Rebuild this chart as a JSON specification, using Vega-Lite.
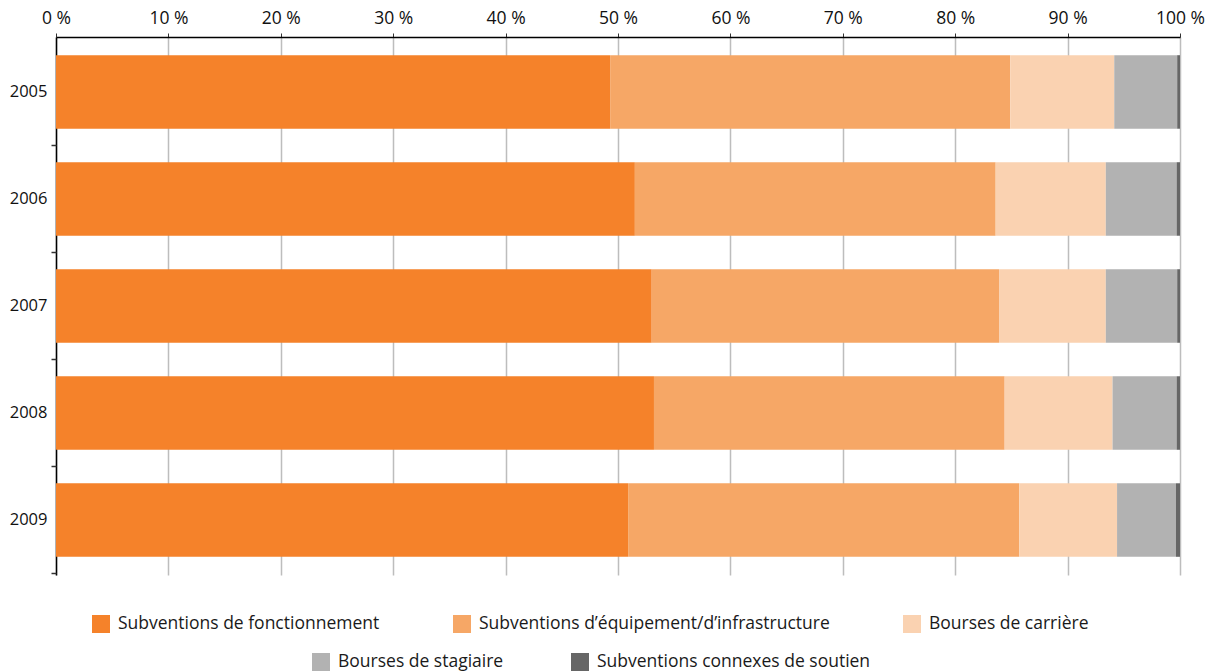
{
  "$schema": "https://vega.github.io/schema/vega-lite/v6.json",
  "autosize": {"type": "none"},
  "padding": {"left": 56, "top": 37, "right": 46, "bottom": 97},
  "width": 1124,
  "height": 538,
  "background": "white",
  "config": {
    "view": {"stroke": null},
    "font": "Open Sans",
    "axis": {"labelFont": "Open Sans", "labelColor": "#111111"},
    "legend": {"labelFont": "Open Sans", "labelColor": "#1a1a1a"}
  },
  "data": {
    "values": [
      {"year": "2005", "cat": "Subventions de fonctionnement", "ord": 1, "value": 49.3},
      {"year": "2005", "cat": "Subventions d’équipement/d’infrastructure", "ord": 2, "value": 35.6},
      {"year": "2005", "cat": "Bourses de carrière", "ord": 3, "value": 9.25},
      {"year": "2005", "cat": "Bourses de stagiaire", "ord": 4, "value": 5.6},
      {"year": "2005", "cat": "Subventions connexes de soutien", "ord": 5, "value": 0.25},
      {"year": "2006", "cat": "Subventions de fonctionnement", "ord": 1, "value": 51.5},
      {"year": "2006", "cat": "Subventions d’équipement/d’infrastructure", "ord": 2, "value": 32.1},
      {"year": "2006", "cat": "Bourses de carrière", "ord": 3, "value": 9.8},
      {"year": "2006", "cat": "Bourses de stagiaire", "ord": 4, "value": 6.3},
      {"year": "2006", "cat": "Subventions connexes de soutien", "ord": 5, "value": 0.3},
      {"year": "2007", "cat": "Subventions de fonctionnement", "ord": 1, "value": 53.0},
      {"year": "2007", "cat": "Subventions d’équipement/d’infrastructure", "ord": 2, "value": 30.9},
      {"year": "2007", "cat": "Bourses de carrière", "ord": 3, "value": 9.5},
      {"year": "2007", "cat": "Bourses de stagiaire", "ord": 4, "value": 6.35},
      {"year": "2007", "cat": "Subventions connexes de soutien", "ord": 5, "value": 0.25},
      {"year": "2008", "cat": "Subventions de fonctionnement", "ord": 1, "value": 53.2},
      {"year": "2008", "cat": "Subventions d’équipement/d’infrastructure", "ord": 2, "value": 31.2},
      {"year": "2008", "cat": "Bourses de carrière", "ord": 3, "value": 9.6},
      {"year": "2008", "cat": "Bourses de stagiaire", "ord": 4, "value": 5.7},
      {"year": "2008", "cat": "Subventions connexes de soutien", "ord": 5, "value": 0.3},
      {"year": "2009", "cat": "Subventions de fonctionnement", "ord": 1, "value": 50.9},
      {"year": "2009", "cat": "Subventions d’équipement/d’infrastructure", "ord": 2, "value": 34.8},
      {"year": "2009", "cat": "Bourses de carrière", "ord": 3, "value": 8.7},
      {"year": "2009", "cat": "Bourses de stagiaire", "ord": 4, "value": 5.24},
      {"year": "2009", "cat": "Subventions connexes de soutien", "ord": 5, "value": 0.36}
    ]
  },
  "transform": [
    {"stack": "value", "groupby": ["year"], "sort": [{"field": "ord", "order": "ascending"}], "as": ["x0", "x1"]}
  ],
  "layer": [
    {
      "transform": [{"filter": "datum.ord <= 3"}],
      "mark": {"type": "bar"},
      "encoding": {
        "y": {
          "field": "year", "type": "nominal", "title": null,
          "scale": {"paddingInner": 0.313, "paddingOuter": 0.17},
          "axis": {
            "orient": "left",
            "labelFontSize": 16.5, "labelFontWeight": 500, "labelPadding": 9, "ticks": false,
            "domain": true, "domainColor": "#000000", "domainWidth": 1.5
          }
        },
        "x": {
          "field": "x0", "type": "quantitative", "title": null,
          "scale": {"domain": [0, 100], "nice": false},
          "axis": {
            "orient": "top",
            "values": [0, 10, 20, 30, 40, 50, 60, 70, 80, 90, 100],
            "labelExpr": "datum.value + ' %'",
            "labelFontSize": 17.5, "labelFontWeight": 500, "labelPadding": 6, "labelDx": 7,
            "labelFlush": false, "labelOverlap": false,
            "grid": true, "gridColor": "#bdbdbd", "gridWidth": 1.5,
            "domain": true, "domainColor": "#000000", "domainWidth": 1.5,
            "ticks": true, "tickSize": 4, "tickColor": "#333333"
          }
        },
        "x2": {"field": "x1"},
        "color": {
          "field": "cat", "type": "nominal",
          "scale": {
            "domain": ["Subventions de fonctionnement", "Subventions d’équipement/d’infrastructure", "Bourses de carrière"],
            "range": ["#f5822a", "#f6a766", "#fad2b1"]
          },
          "legend": {
            "title": null, "orient": "none", "direction": "horizontal",
            "legendX": 36, "legendY": 578, "padding": 0,
            "symbolType": "square", "symbolSize": 324, "symbolStrokeWidth": 0,
            "symbolOpacity": 1,
            "labelFontSize": 17.5, "labelOffset": 8, "columnPadding": 73,
            "labelLimit": 500
          }
        }
      }
    },
    {
      "transform": [{"filter": "datum.ord > 3"}],
      "mark": {"type": "bar"},
      "encoding": {
        "y": {
          "field": "year", "type": "nominal", "title": null,
          "scale": {"paddingInner": 0.313, "paddingOuter": 0.17},
          "axis": {
            "orient": "left",
            "labels": false, "domain": false, "ticks": true,
            "tickSize": 5, "tickColor": "#333333", "tickWidth": 1.5,
            "bandPosition": 1.23
          }
        },
        "x": {
          "field": "x0", "type": "quantitative",
          "scale": {"domain": [0, 100], "nice": false}
        },
        "x2": {"field": "x1"},
        "fill": {
          "field": "cat", "type": "nominal",
          "scale": {
            "domain": ["Bourses de stagiaire", "Subventions connexes de soutien"],
            "range": ["#b2b2b2", "#666666"]
          },
          "legend": {
            "title": null, "orient": "none", "direction": "horizontal",
            "legendX": 256, "legendY": 616, "padding": 0,
            "symbolType": "square", "symbolSize": 324, "symbolStrokeWidth": 0,
            "symbolOpacity": 1,
            "labelFontSize": 17.5, "labelOffset": 8, "columnPadding": 67,
            "labelLimit": 500
          }
        }
      }
    }
  ],
  "resolve": {"axis": {"y": "independent"}}
}
